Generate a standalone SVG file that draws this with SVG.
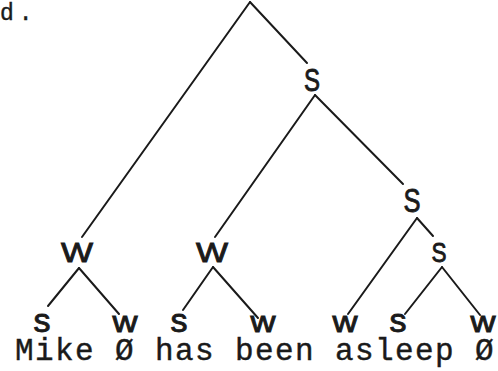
<svg xmlns="http://www.w3.org/2000/svg" width="498" height="371" viewBox="0 0 498 371">
<style>
.bg{fill:#fff}
.e{stroke:#1a1a1a;stroke-width:2;fill:none;stroke-linecap:round}
.lab{font-family:"Liberation Sans","DejaVu Sans",sans-serif;fill:#1a1a1a;stroke:#1a1a1a;stroke-width:0.9;text-anchor:middle}
.word{font-family:"Liberation Mono","DejaVu Sans Mono",monospace;font-size:31px;letter-spacing:1.4px;fill:#1a1a1a;stroke:#1a1a1a;stroke-width:0.4}
</style>
<rect class="bg" x="0" y="0" width="498" height="371"/>
<text class="word" x="0" y="20" style="font-size:23px;letter-spacing:5px">d.</text>
<g id="connectors">
<line class="e" x1="250" y1="2" x2="82" y2="237"/>
<line class="e" x1="250" y1="2" x2="307" y2="63"/>
<line class="e" x1="315" y1="95" x2="215" y2="237"/>
<line class="e" x1="315" y1="95" x2="403" y2="184"/>
<line class="e" x1="417" y1="218" x2="348" y2="314"/>
<line class="e" x1="417" y1="218" x2="433" y2="236"/>
<line class="e" x1="442" y1="267" x2="405" y2="314"/>
<line class="e" x1="442" y1="267" x2="480" y2="315"/>
<line class="e" x1="79" y1="268" x2="48" y2="306"/>
<line class="e" x1="79" y1="268" x2="119" y2="314"/>
<line class="e" x1="213" y1="267" x2="183" y2="310"/>
<line class="e" x1="213" y1="267" x2="258" y2="318"/>
</g>
<g id="s1"><text class="lab" x="312" y="91" font-size="31" textLength="16" lengthAdjust="spacingAndGlyphs">S</text></g>
<g id="s2"><text class="lab" x="412" y="212" font-size="33" textLength="17" lengthAdjust="spacingAndGlyphs">S</text></g>
<g id="s3"><text class="lab" x="439" y="262" font-size="27" textLength="15" lengthAdjust="spacingAndGlyphs">S</text></g>
<g id="w1"><text class="lab" x="77" y="262" font-size="27" textLength="32" lengthAdjust="spacingAndGlyphs">W</text></g>
<g id="w2"><text class="lab" x="212" y="262" font-size="27" textLength="32" lengthAdjust="spacingAndGlyphs">W</text></g>
<g id="leaf1"><text class="lab" x="42" y="332" font-size="33" textLength="17" lengthAdjust="spacingAndGlyphs">s</text></g>
<g id="leaf2"><text class="lab" x="125" y="332" font-size="29" textLength="25" lengthAdjust="spacingAndGlyphs">w</text></g>
<g id="leaf3"><text class="lab" x="179" y="332" font-size="33" textLength="17" lengthAdjust="spacingAndGlyphs">s</text></g>
<g id="leaf4"><text class="lab" x="263" y="332" font-size="29" textLength="25" lengthAdjust="spacingAndGlyphs">w</text></g>
<g id="leaf5"><text class="lab" x="345" y="332" font-size="29" textLength="25" lengthAdjust="spacingAndGlyphs">w</text></g>
<g id="leaf6"><text class="lab" x="398" y="332" font-size="33" textLength="17" lengthAdjust="spacingAndGlyphs">s</text></g>
<g id="leaf7"><text class="lab" x="483" y="332" font-size="29" textLength="25" lengthAdjust="spacingAndGlyphs">w</text></g>
<g id="sentence"><text class="word" x="15" y="360">Mike Ø has been asleep Ø</text></g>
</svg>
